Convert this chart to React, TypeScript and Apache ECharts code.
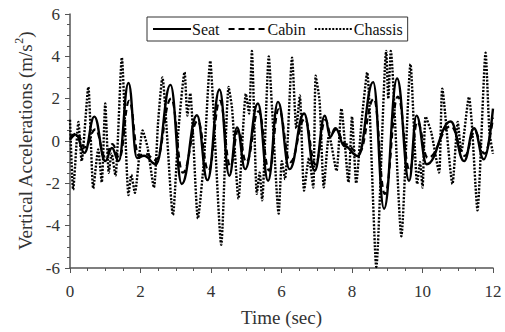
import React, { useEffect, useRef } from "react";
import * as echarts from "echarts";

const xTicks = [0, 2, 4, 6, 8, 10, 12];
const yTicks = [-6, -4, -2, 0, 2, 4, 6];
const seriesNames = ["Seat", "Cabin", "Chassis"];

const seatData: [number, number][] = [
  [0, 0.05], [0.17, 0.3], [0.41, -0.56], [0.69, 1.15], [1.0, -0.95], [1.19, -0.33],
  [1.38, -0.95], [1.66, 2.74], [1.9, -0.8], [2.1, -0.7], [2.44, -1.1], [2.85, 2.65],
  [3.17, -2.03], [3.6, 1.22], [3.9, -1.85], [4.24, 2.43], [4.52, -1.64], [4.74, 0.64],
  [4.97, -1.33], [5.33, 1.77], [5.62, -1.88], [5.9, 1.85], [6.23, -1.33], [6.64, 1.3],
  [6.94, -1.41], [7.23, 1.2], [7.38, 0.2], [7.53, 0.6], [7.79, -0.25], [8.17, -0.71],
  [8.6, 2.78], [8.91, -3.2], [9.28, 2.95], [9.62, -1.88], [9.83, 1.2], [10.12, -1.1],
  [10.8, 0.92], [11.18, -0.95], [11.46, 0.6], [11.74, -0.87], [12.0, 1.53],
];

const cabinData: [number, number][] = [
  [0, 0.2], [0.2, 0.35], [0.42, -0.3], [0.72, 0.55], [1.0, -0.75], [1.2, -0.15],
  [1.4, -0.8], [1.68, 1.9], [1.95, -0.7], [2.12, -0.6], [2.44, -0.9], [2.87, 2.0],
  [3.2, -1.5], [3.62, 0.95], [3.93, -1.4], [4.25, 1.9], [4.55, -1.2], [4.77, 0.5],
  [5.0, -1.0], [5.35, 1.4], [5.65, -1.4], [5.92, 1.5], [6.25, -1.0], [6.66, 1.05],
  [6.96, -1.1], [7.25, 1.0], [7.4, 0.3], [7.55, 0.55], [7.8, -0.15], [8.2, -0.55],
  [8.62, 2.0], [8.93, -2.5], [9.3, 2.1], [9.64, -1.4], [9.85, 0.9], [10.15, -0.8],
  [10.8, 0.7], [11.2, -0.7], [11.48, 0.45], [11.76, -0.6], [12.0, 1.1],
];

const chassisData: [number, number][] = [
  [0, 1.0], [0.09, -2.3], [0.24, 0.9], [0.33, -0.95], [0.52, 2.55], [0.66, -2.25],
  [0.8, -0.4], [0.9, -1.95], [1.0, 1.77], [1.1, -1.5], [1.18, -0.6], [1.29, -1.65],
  [1.47, 3.94], [1.66, -2.55], [1.74, -1.6], [1.84, -2.45], [2.06, 0.5], [2.2, -0.3],
  [2.38, -2.2], [2.5, 0.9], [2.62, 3.0], [2.92, -3.5], [3.08, 0.6], [3.25, 3.25],
  [3.33, 1.2], [3.41, 2.25], [3.63, -3.66], [3.8, -0.9], [3.98, 3.78], [4.05, 2.1],
  [4.29, -4.9], [4.5, 2.55], [4.6, 1.5], [4.78, -2.73], [4.99, 2.23], [5.08, 1.3],
  [5.16, 4.25], [5.3, -2.5], [5.38, -1.5], [5.45, -2.8], [5.64, 4.0], [5.73, 1.6],
  [5.92, -3.43], [6.01, -0.95], [6.1, -1.8], [6.3, 3.94], [6.42, 0.6], [6.52, 2.15],
  [6.64, -2.34], [6.78, -0.8], [6.9, -2.2], [6.97, 3.08], [7.08, 1.9], [7.2, -2.19],
  [7.35, 0.3], [7.56, -1.41], [7.7, 1.53], [7.9, -1.95], [8.0, 1.15], [8.12, -2.0],
  [8.27, 0.9], [8.43, 3.24], [8.69, -5.95], [8.97, 4.25], [9.03, 2.0], [9.1, 4.25],
  [9.4, -4.5], [9.66, 3.63], [9.85, -2.03], [9.93, -1.0], [10.0, -2.2], [10.09, 1.15],
  [10.25, 0.4], [10.47, -1.49], [10.56, 2.47], [10.85, -2.03], [11.0, 0.9], [11.1, -0.5],
  [11.32, 2.08], [11.4, 0.8], [11.56, -3.27], [11.79, 4.17], [11.9, 0.4], [12.0, -0.6],
];

const FONT = "Liberation Serif";

export default function App() {
  const ref = useRef<HTMLDivElement>(null);
  useEffect(() => {
    if (!ref.current) return;
    const chart = echarts.init(ref.current, null, { renderer: "svg" });
    chart.setOption({
      animation: false,
      textStyle: { fontFamily: FONT },
      grid: { left: 70, right: 12, top: 14, bottom: 60, containLabel: false },
      legend: {
        data: seriesNames,
        left: 147,
        top: 17,
        padding: [4, 5],
        itemWidth: 38,
        itemHeight: 12,
        itemGap: 8,
        backgroundColor: "#fff",
        borderColor: "#333",
        borderWidth: 1,
        borderRadius: 0,
        itemStyle: { color: "transparent", borderColor: "transparent", borderWidth: 0 },
        textStyle: { fontFamily: FONT, fontSize: 16, color: "#111", padding: [0, 0, 0, -4] },
      },
      xAxis: {
        type: "value",
        min: xTicks[0],
        max: xTicks[xTicks.length - 1],
        interval: 2,
        name: "Time (sec)",
        nameLocation: "middle",
        nameGap: 40,
        nameTextStyle: { fontFamily: FONT, fontSize: 19, color: "#333" },
        axisLine: { show: true, onZero: false, lineStyle: { color: "#555", width: 1.5 } },
        axisTick: { show: true, inside: false, length: 5, lineStyle: { color: "#555" } },
        minorTick: { show: true, splitNumber: 4, length: 3, lineStyle: { color: "#555" } },
        splitLine: { show: false },
        axisLabel: { fontFamily: FONT, fontSize: 17, color: "#333", margin: 15 },
      },
      yAxis: {
        type: "value",
        min: yTicks[0],
        max: yTicks[yTicks.length - 1],
        interval: 2,
        name: "{a|Vertical Accelerations (m/s}{b|2}{a|)}",
        nameLocation: "middle",
        nameGap: 32,
        nameTextStyle: {
          fontFamily: FONT,
          fontSize: 19,
          color: "#333",
          rich: {
            a: { fontFamily: FONT, fontSize: 19, color: "#333", lineHeight: 22, verticalAlign: "bottom" },
            b: { fontFamily: FONT, fontSize: 12, color: "#333", lineHeight: 12, verticalAlign: "top" },
          },
        },
        axisLine: { show: true, onZero: false, lineStyle: { color: "#555", width: 1.5 } },
        axisTick: { show: true, inside: false, length: 5, lineStyle: { color: "#555" } },
        minorTick: { show: true, splitNumber: 4, length: 3, lineStyle: { color: "#555" } },
        splitLine: { show: false },
        axisLabel: { fontFamily: FONT, fontSize: 17, color: "#333", margin: 10 },
      },
      series: [
        {
          name: seriesNames[0],
          type: "line",
          data: seatData,
          symbol: "none",
          smooth: 0.45,
          smoothMonotone: "x",
          lineStyle: { color: "#000", width: 2.4, type: "solid" },
          itemStyle: { color: "#000" },
          z: 3,
        },
        {
          name: seriesNames[1],
          type: "line",
          data: cabinData,
          symbol: "none",
          smooth: 0.45,
          smoothMonotone: "x",
          lineStyle: { color: "#000", width: 2.2, type: [6, 4] },
          itemStyle: { color: "#000" },
          z: 2,
        },
        {
          name: seriesNames[2],
          type: "line",
          data: chassisData,
          symbol: "none",
          smooth: 0.2,
          lineStyle: { color: "#000", width: 2.4, type: [2, 1.5] },
          itemStyle: { color: "#000" },
          z: 1,
        },
      ],
    });
    return () => chart.dispose();
  }, []);
  return <div ref={ref} style={{ width: 505, height: 332, position: "absolute", left: 0, top: 0 }} />;
}
